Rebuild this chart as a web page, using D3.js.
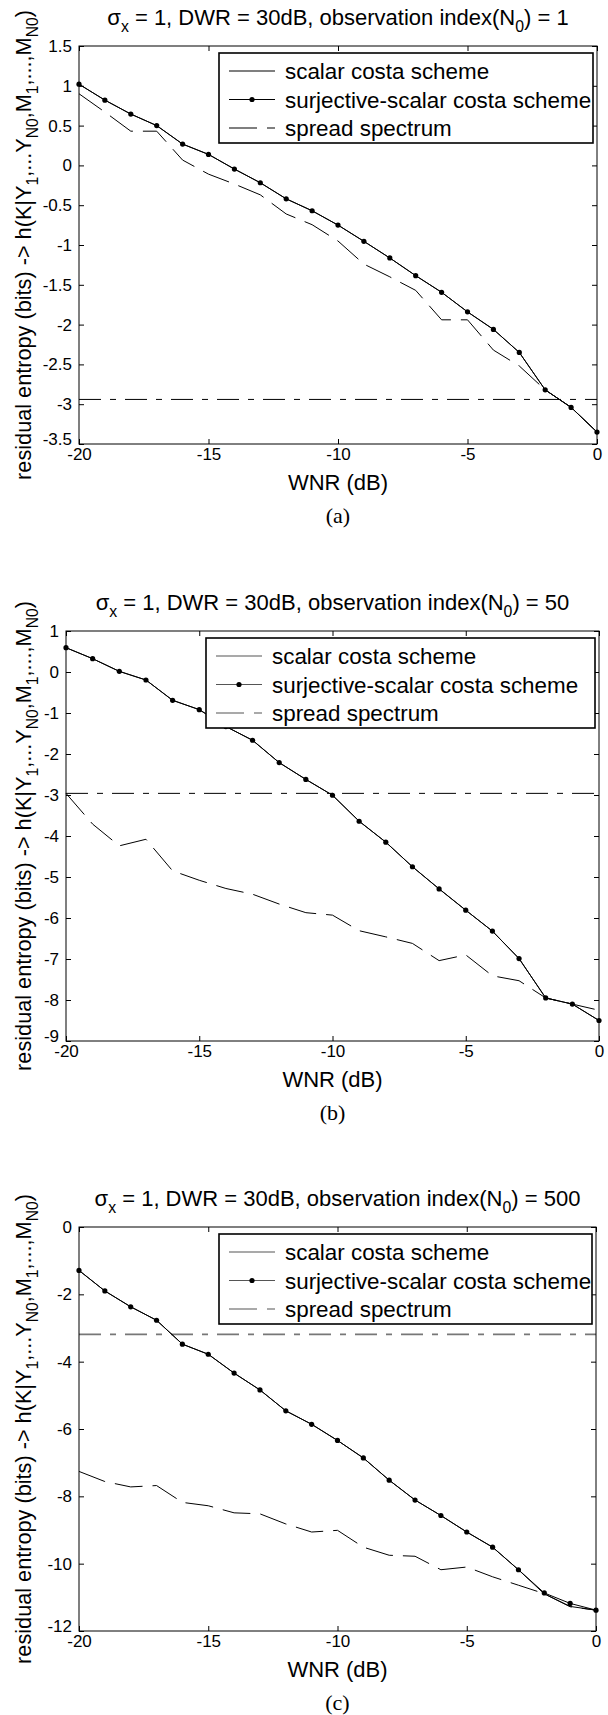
<!DOCTYPE html>
<html>
<head>
<meta charset="utf-8">
<script src="https://cdn.jsdelivr.net/npm/d3@7"></script>
<style>
  body { margin: 0; background: #fff; }
  text { font-family: "Liberation Sans", Arial, sans-serif; fill: #000; }
</style>
</head>
<body>
<script>
// WNR values on the x axis (dB)
var wnr = [-20, -19, -18, -17, -16, -15, -14, -13, -12, -11, -10, -9, -8, -7, -6, -5, -4, -3, -2, -1, 0];
var xTicks = [-20, -15, -10, -5, 0];
var legendLabels = ["scalar costa scheme", "surjective-scalar costa scheme", "spread spectrum"];

// (a) N0 = 1
var yTicksA = [1.5, 1, 0.5, 0, -0.5, -1, -1.5, -2, -2.5, -3, -3.5];
var scsA  = [1.02, 0.82, 0.645, 0.50, 0.268, 0.138, -0.046, -0.218, -0.42, -0.57, -0.75, -0.954, -1.163, -1.385, -1.594, -1.84, -2.06, -2.35, -2.82, -3.04, -3.35];
var sscsA = [1.02, 0.82, 0.645, 0.50, 0.268, 0.138, -0.046, -0.218, -0.42, -0.57, -0.75, -0.954, -1.163, -1.385, -1.594, -1.84, -2.06, -2.35, -2.82, -3.04, -3.35];
var ssA   = [0.90, 0.67, 0.43, 0.43, 0.067, -0.11, -0.234, -0.37, -0.61, -0.745, -0.95, -1.24, -1.40, -1.57, -1.94, -1.94, -2.32, -2.52, -2.82, -3.04, -3.35];
var refA  = -2.94;

// (b) N0 = 50
var yTicksB = [1, 0, -1, -2, -3, -4, -5, -6, -7, -8, -9];
var scsB  = [0.593, 0.325, 0.016, -0.195, -0.69, -0.918, -1.33, -1.665, -2.21, -2.62, -3.006, -3.64, -4.15, -4.75, -5.29, -5.81, -6.32, -6.99, -7.95, -8.1, -8.5];
var sscsB = [0.593, 0.325, 0.016, -0.195, -0.69, -0.918, -1.33, -1.665, -2.21, -2.62, -3.006, -3.64, -4.15, -4.75, -5.29, -5.81, -6.32, -6.99, -7.95, -8.1, -8.5];
var ssB   = [-2.96, -3.71, -4.24, -4.08, -4.85, -5.08, -5.28, -5.42, -5.66, -5.87, -5.93, -6.31, -6.46, -6.62, -7.04, -6.90, -7.41, -7.53, -7.95, -8.1, -8.25];
var refB  = -2.96;

// (c) N0 = 500
var yTicksC = [0, -2, -4, -6, -8, -10, -12];
var scsC  = [-1.29, -1.90, -2.37, -2.77, -3.48, -3.78, -4.34, -4.84, -5.46, -5.86, -6.34, -6.86, -7.52, -8.11, -8.57, -9.06, -9.51, -10.18, -10.9, -11.27, -11.38];
var sscsC = [-1.29, -1.90, -2.37, -2.77, -3.48, -3.78, -4.34, -4.84, -5.46, -5.86, -6.34, -6.86, -7.52, -8.11, -8.57, -9.06, -9.51, -10.18, -10.87, -11.18, -11.38];
var ssC   = [-7.26, -7.56, -7.72, -7.68, -8.18, -8.28, -8.49, -8.52, -8.82, -9.06, -9.01, -9.51, -9.75, -9.78, -10.18, -10.10, -10.39, -10.64, -10.89, -11.28, -11.38];
var refC  = -3.19;

var panels = [
  { n0: "1",   tag: "(a)", yTicks: yTicksA, scs: scsA, sscs: sscsA, ss: ssA, ref: refA,
    refColor: "#000", keyColor: "#000", left: 79, right: 597, top: 46, bottom: 444 },
  { n0: "50",  tag: "(b)", yTicks: yTicksB, scs: scsB, sscs: sscsB, ss: ssB, ref: refB,
    refColor: "#000", keyColor: "#555", left: 66, right: 599, top: 631, bottom: 1041 },
  { n0: "500", tag: "(c)", yTicks: yTicksC, scs: scsC, sscs: sscsC, ss: ssC, ref: refC,
    refColor: "#777", keyColor: "#555", left: 79, right: 596, top: 1227, bottom: 1631 }
];

var svg = d3.select("body").append("svg")
    .attr("width", 608)
    .attr("height", 1715);

// text made of plain and subscript runs
function richText(sel, runs, size) {
  var shift = 0;
  runs.forEach(function(r) {
    var want = r.sub ? size * 0.32 : 0;
    sel.append("tspan")
        .attr("dy", want - shift)
        .style("font-size", (r.sub ? size * 0.72 : size) + "px")
        .text(r.t);
    shift = want;
  });
}

function drawPanel(p) {
  var x = d3.scaleLinear().domain([-20, 0]).range([p.left, p.right]);
  var y = d3.scaleLinear().domain(d3.extent(p.yTicks)).range([p.bottom, p.top]);
  var g = svg.append("g");

  // reference level (dash-dot)
  g.append("line")
      .attr("x1", x(-20)).attr("x2", x(0))
      .attr("y1", y(p.ref)).attr("y2", y(p.ref))
      .attr("stroke", p.refColor)
      .attr("stroke-width", p.refColor === "#000" ? 1 : 1.6)
      .attr("stroke-dasharray", "22,9,6,9");

  var line = d3.line()
      .x(function(d, i) { return x(wnr[i]); })
      .y(function(d) { return y(d); });

  g.append("path").datum(p.ss)
      .attr("d", line).attr("fill", "none")
      .attr("stroke", "#000").attr("stroke-width", 1)
      .attr("stroke-dasharray", "28,10");
  g.append("path").datum(p.scs)
      .attr("d", line).attr("fill", "none")
      .attr("stroke", "#000").attr("stroke-width", 1);
  g.append("path").datum(p.sscs)
      .attr("d", line).attr("fill", "none")
      .attr("stroke", "#000").attr("stroke-width", 1);
  g.selectAll("circle.dot").data(p.sscs).enter().append("circle")
      .attr("class", "dot")
      .attr("cx", function(d, i) { return x(wnr[i]); })
      .attr("cy", function(d) { return y(d); })
      .attr("r", 2.6)
      .attr("fill", "#000");

  // axes, ticks pointing inward
  var fmt = function(d) { return String(d); };
  g.append("g").attr("transform", "translate(0," + p.bottom + ")")
      .call(d3.axisBottom(x).tickValues(xTicks).tickFormat(fmt).tickSize(-5).tickSizeOuter(0).tickPadding(4));
  var ay = g.append("g").attr("transform", "translate(" + p.left + ",0)")
      .call(d3.axisLeft(y).tickValues(p.yTicks).tickFormat(fmt).tickSize(-5).tickSizeOuter(0).tickPadding(7));
  // lowest y label sits just above the -20 label
  ay.selectAll(".tick text").filter(function(d) { return d === d3.min(p.yTicks); })
      .attr("dy", "0.05em");
  g.append("g").attr("transform", "translate(0," + p.top + ")")
      .call(d3.axisTop(x).tickValues(xTicks).tickFormat("").tickSize(-5).tickSizeOuter(0));
  g.append("g").attr("transform", "translate(" + p.right + ",0)")
      .call(d3.axisRight(y).tickValues(p.yTicks).tickFormat("").tickSize(-5).tickSizeOuter(0));
  g.selectAll(".tick text")
      .style("font-family", "'Liberation Sans', Arial, sans-serif")
      .style("font-size", "17px").attr("fill", "#000");
  g.selectAll(".domain").remove();
  g.selectAll(".tick line").attr("stroke", "#000");

  g.append("rect")
      .attr("x", p.left).attr("y", p.top)
      .attr("width", p.right - p.left).attr("height", p.bottom - p.top)
      .attr("fill", "none").attr("stroke", "#000").attr("stroke-width", 1);

  // legend
  var lx = p.left + 140, ly = p.top + 7, lw = p.right - 4 - lx, lh = 90;
  var lg = g.append("g");
  lg.append("rect")
      .attr("x", lx).attr("y", ly).attr("width", lw).attr("height", lh)
      .attr("fill", "#fff").attr("stroke", "#000").attr("stroke-width", 1.6);
  legendLabels.forEach(function(name, i) {
    var ry = ly + 18 + i * 28.5;
    var ln = lg.append("line")
        .attr("x1", lx + 10).attr("x2", lx + 56)
        .attr("y1", ry).attr("y2", ry)
        .attr("stroke", p.keyColor).attr("stroke-width", 1.2);
    if (i === 2) ln.attr("stroke-dasharray", "28,10");
    if (i === 1) {
      lg.append("circle").attr("cx", lx + 33).attr("cy", ry).attr("r", 2.6).attr("fill", "#000");
    }
    lg.append("text")
        .attr("x", lx + 66).attr("y", ry + 8)
        .style("font-size", "22.4px")
        .text(name);
  });

  // title
  var title = g.append("text")
      .attr("x", (p.left + p.right) / 2).attr("y", p.top - 21)
      .attr("text-anchor", "middle");
  richText(title, [
    { t: "\u03c3" }, { t: "x", sub: true },
    { t: " = 1, DWR = 30dB, observation index(N" }, { t: "0", sub: true },
    { t: ") = " + p.n0 }
  ], 22);

  // axis labels
  g.append("text")
      .attr("x", (p.left + p.right) / 2).attr("y", p.bottom + 46)
      .attr("text-anchor", "middle")
      .style("font-size", "22px")
      .text("WNR (dB)");

  var yl = g.append("text")
      .attr("transform", "translate(31," + (p.top + p.bottom) / 2 + ") rotate(-90)")
      .attr("text-anchor", "middle");
  richText(yl, [
    { t: "residual entropy (bits) -> h(K|Y" }, { t: "1", sub: true },
    { t: ",...Y" }, { t: "N0", sub: true },
    { t: ",M" }, { t: "1", sub: true },
    { t: ",...,M" }, { t: "N0", sub: true },
    { t: ")" }
  ], 21.7);

  g.append("text")
      .attr("x", (p.left + p.right) / 2).attr("y", p.bottom + 79)
      .attr("text-anchor", "middle")
      .style("font-family", "'Liberation Serif', 'Times New Roman', serif")
      .style("font-size", "22px")
      .text(p.tag);
}

panels.forEach(drawPanel);
</script>
</body>
</html>
